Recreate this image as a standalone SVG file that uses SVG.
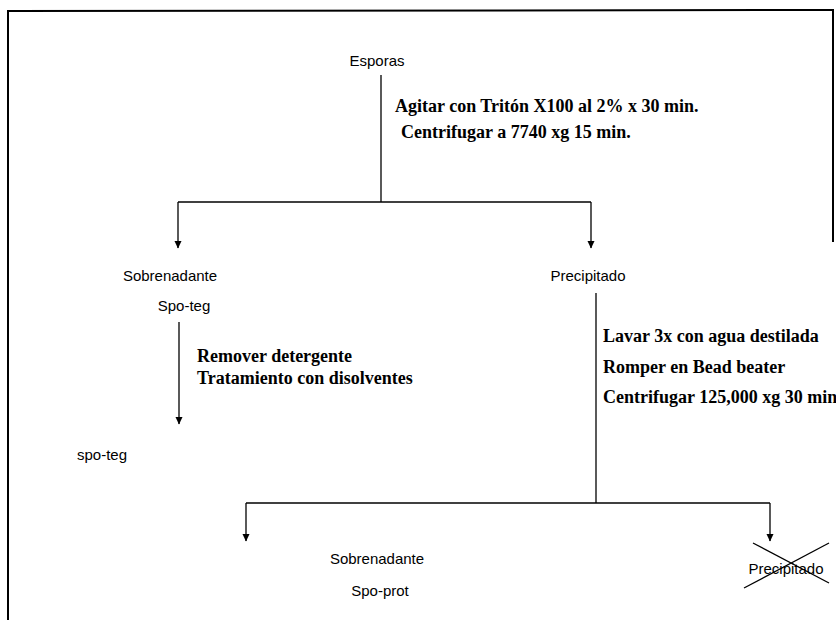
<svg xmlns="http://www.w3.org/2000/svg" width="836" height="620" viewBox="0 0 836 620">
<style>
.lbl{font-family:"Liberation Sans",Arial,sans-serif;font-size:15px;fill:#000}
.step{font-family:"Liberation Serif","Times New Roman",serif;font-size:18px;font-weight:bold;fill:#000}
.ln{stroke:#000;stroke-width:1.3;fill:none}
.frame{stroke:#000;stroke-width:2;fill:none}
</style>
<defs>
<marker id="ah" markerWidth="8" markerHeight="8" refX="7" refY="4" orient="auto" markerUnits="userSpaceOnUse">
<path d="M0,0.5 L7.5,4 L0,7.5 Z" fill="#000"/>
</marker>
</defs>
<rect width="836" height="620" fill="#fff"/>
<g id="frame">
<path class="frame" d="M8,620 L8,11 L833,10 L833,242"/>
</g>
<g id="connectors">
<line class="ln" x1="381" y1="75" x2="381" y2="202"/>
<line class="ln" x1="178" y1="202" x2="591" y2="202"/>
<line class="ln" x1="178" y1="202" x2="178" y2="248" marker-end="url(#ah)"/>
<line class="ln" x1="591" y1="202" x2="591" y2="248" marker-end="url(#ah)"/>
<line class="ln" x1="179" y1="322" x2="179" y2="424" marker-end="url(#ah)"/>
<line class="ln" x1="596" y1="293" x2="596" y2="503"/>
<line class="ln" x1="246" y1="503" x2="770" y2="503"/>
<line class="ln" x1="246" y1="503" x2="246" y2="541" marker-end="url(#ah)"/>
<line class="ln" x1="770" y1="503" x2="770" y2="541" marker-end="url(#ah)"/>
</g>
<g id="esporas"><text class="lbl" x="377" y="66" text-anchor="middle" font-size="18">Esporas</text></g>
<g id="step1">
<text class="step" x="395" y="112">Agitar con Tritón X100 al 2% x 30 min.</text>
<text class="step" x="401" y="138">Centrifugar a 7740 xg 15 min.</text>
</g>
<g id="sobrenadante1">
<text class="lbl" x="170" y="281" text-anchor="middle">Sobrenadante</text>
<text class="lbl" x="184" y="311" text-anchor="middle">Spo-teg</text>
</g>
<g id="precipitado1"><text class="lbl" x="588" y="281" text-anchor="middle">Precipitado</text></g>
<g id="step2">
<text class="step" x="197" y="362">Remover detergente</text>
<text class="step" x="197" y="384">Tratamiento con  disolventes</text>
</g>
<g id="spoteg"><text class="lbl" x="102" y="460" text-anchor="middle">spo-teg</text></g>
<g id="step3">
<text class="step" x="603" y="342">Lavar 3x con agua destilada</text>
<text class="step" x="603" y="373">Romper en Bead beater</text>
<text class="step" x="603" y="403">Centrifugar 125,000 xg 30 min</text>
</g>
<g id="sobrenadante2">
<text class="lbl" x="377" y="564" text-anchor="middle">Sobrenadante</text>
<text class="lbl" x="380" y="596" text-anchor="middle">Spo-prot</text>
</g>
<g id="precipitado2">
<text class="lbl" x="786" y="574" text-anchor="middle" font-size="16">Precipitado</text>
<line class="ln" x1="753" y1="543" x2="829" y2="583"/>
<line class="ln" x1="829" y1="543" x2="744" y2="588"/>
</g>
</svg>
